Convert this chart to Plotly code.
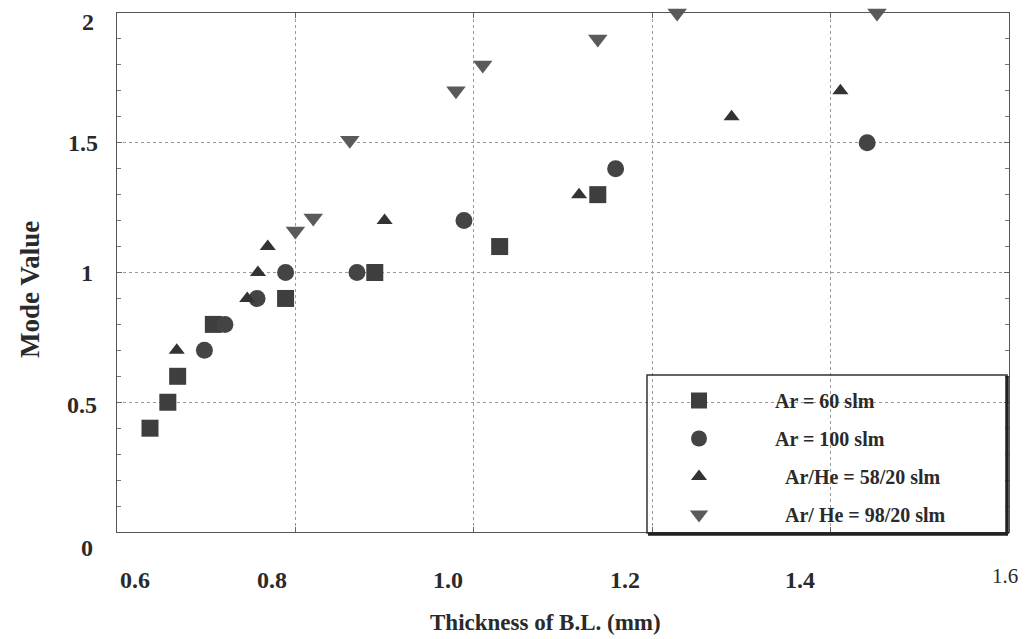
import plotly.graph_objects as go

# ---- data ----
ar60_x = [0.637, 0.657, 0.668, 0.708, 0.789, 0.889, 1.029, 1.139]
ar60_y = [0.40, 0.50, 0.60, 0.80, 0.90, 1.00, 1.10, 1.30]

ar100_x = [0.698, 0.721, 0.757, 0.789, 0.869, 0.989, 1.159, 1.441]
ar100_y = [0.70, 0.80, 0.90, 1.00, 1.00, 1.20, 1.40, 1.50]

arhe58_x = [0.667, 0.746, 0.758, 0.769, 0.900, 1.118, 1.289, 1.411]
arhe58_y = [0.70, 0.90, 1.00, 1.10, 1.20, 1.30, 1.60, 1.70]

arhe98_x = [0.800, 0.820, 0.861, 0.980, 1.010, 1.139, 1.228, 1.452]
arhe98_y = [1.16, 1.21, 1.51, 1.70, 1.80, 1.90, 2.00, 2.00]

series_names = ["Ar = 60 slm", "Ar = 100 slm",
                "\u00a0\u00a0Ar/He = 58/20 slm", "\u00a0\u00a0Ar/ He = 98/20 slm"]

x_tick_labels = ["0.6", "0.8", "1.0", "1.2", "1.4", "1.6"]
y_tick_labels = ["2", "1.5", "1", "0.5", "0"]
x_title = "Thickness of B.L. (mm)"
y_title = "Mode Value"

# ---- layout geometry (pixels) ----
W, H = 1033, 639
L, R, T, B = 117, 1009, 13, 532
x_lab_px = [135, 272, 448, 625, 800, 1005]
x_lab_py = [580, 580, 580, 580, 580, 576]
y_lab_px = [88, 83, 87, 82, 87]
y_lab_py = [22, 143, 273, 405, 548]

def px(xp):
    return (xp - L) / (R - L)

def py(yp):
    return (B - yp) / (B - T)

FONT = "Liberation Serif"

fig = go.Figure()
styles = [
    (ar60_x, ar60_y, "square", 17, "#3e3e3e"),
    (ar100_x, ar100_y, "circle", 17, "#444444"),
    (arhe58_x, arhe58_y, "triangle-up", 14, "#333333"),
    (arhe98_x, arhe98_y, "triangle-down", 17, "#5a5a5a"),
]
for i, ((xs, ys, sym, sz, col), name) in enumerate(zip(styles, series_names)):
    fig.add_trace(go.Scatter(
        x=xs, y=ys, mode="markers", name=f"<b>{name}</b>", legendgroup=f"g{i}",
        marker=dict(symbol=sym, size=sz, color=col, line=dict(width=0)),
        cliponaxis=False,
    ))

annotations = []
for lab, xp, yp in zip(x_tick_labels, x_lab_px, x_lab_py):
    last = lab == "1.6"
    annotations.append(dict(
        x=px(xp), y=py(yp), xref="paper", yref="paper",
        text=lab if last else f"<b>{lab}</b>", showarrow=False,
        xanchor="center", yanchor="middle",
        font=dict(family=FONT, size=21 if last else 24, color="#2a2a2a")))
for lab, xp, yp in zip(y_tick_labels, y_lab_px, y_lab_py):
    annotations.append(dict(
        x=px(xp), y=py(yp), xref="paper", yref="paper",
        text=f"<b>{lab}</b>", showarrow=False,
        xanchor="center", yanchor="middle",
        font=dict(family=FONT, size=24, color="#2a2a2a")))
annotations.append(dict(
    x=px(545), y=py(622), xref="paper", yref="paper",
    text=f"<b>{x_title}</b>", showarrow=False, xanchor="center", yanchor="middle",
    font=dict(family=FONT, size=23, color="#2a2a2a")))
annotations.append(dict(
    x=px(30), y=py(290), xref="paper", yref="paper",
    text=f"<b>{y_title}</b>", showarrow=False, textangle=-90,
    xanchor="center", yanchor="middle",
    font=dict(family=FONT, size=27, color="#2a2a2a")))

shapes = [
    dict(type="rect", xref="paper", yref="paper",
         x0=px(647), x1=px(1007), y0=py(533), y1=py(375),
         line=dict(color="#333333", width=1.5), fillcolor="rgba(0,0,0,0)"),
    dict(type="line", xref="paper", yref="paper",
         x0=px(1007), x1=px(1007), y0=py(534), y1=py(376),
         line=dict(color="#222222", width=3.5)),
    dict(type="line", xref="paper", yref="paper",
         x0=px(648), x1=px(1008), y0=py(534), y1=py(534),
         line=dict(color="#222222", width=3.5)),
]

axis_common = dict(showline=True, mirror="ticks", linecolor="#555555", linewidth=1,
                   showgrid=True, gridcolor="#999999", gridwidth=1, griddash="dot",
                   zeroline=False, showticklabels=False, ticks="inside",
                   ticklen=5, tickcolor="#666666")

fig.update_layout(
    width=W, height=H,
    margin=dict(l=L, r=W - R, t=T, b=H - B),
    paper_bgcolor="white", plot_bgcolor="white",
    xaxis=dict(range=[0.6, 1.6], tickvals=[0.8, 1.0, 1.2, 1.4], **axis_common),
    yaxis=dict(range=[0, 2], tickvals=[0.5, 1.0, 1.5],
               minor=dict(ticks="inside", dtick=0.1, ticklen=4, tickcolor="#777777",
                          showgrid=False),
               **axis_common),
    showlegend=True,
    legend=dict(x=px(623), y=py(381), xanchor="left", yanchor="top",
                bgcolor="rgba(0,0,0,0)", borderwidth=0,
                itemwidth=142, tracegroupgap=9, traceorder="grouped",
                font=dict(family=FONT, size=20, color="#2a2a2a")),
    annotations=annotations,
    shapes=shapes,
)

fig.write_html("out.html")
